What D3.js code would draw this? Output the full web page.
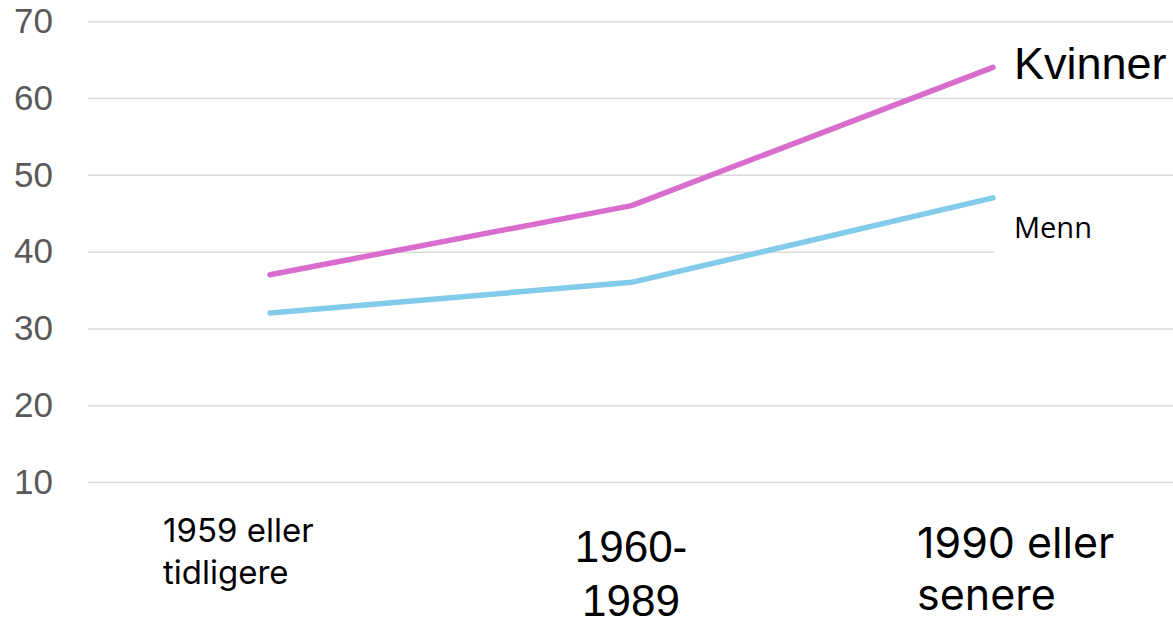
<!DOCTYPE html>
<html>
<head>
<meta charset="utf-8">
<script src="https://cdn.jsdelivr.net/npm/d3@7"></script>
<style>
  html, body { margin: 0; padding: 0; background: #fff; }
  svg { display: block; }
</style>
</head>
<body>
<svg id="chart" width="1173" height="625"></svg>
<script>
// Cohort categories and the share for each group
const categories = ["1959 eller tidligere", "1960-1989", "1990 eller senere"];
const kvinner = [37, 46, 64];
const menn = [32, 36, 47];
const yTicks = [10, 20, 30, 40, 50, 60, 70];
const seriesNames = ["Kvinner", "Menn"];

const svg = d3.select("#chart");

const x = d3.scalePoint().domain(categories).range([270, 993]);
const y = d3.scaleLinear().domain([10, 70]).range([482, 21.3]);

// Horizontal gridlines and value labels
const yAxis = d3.axisLeft(y).tickValues(yTicks).tickSize(-(1173 - 88)).tickPadding(35);
const gy = svg.append("g").attr("transform", "translate(88,0)").call(yAxis);
gy.select(".domain").remove();
gy.selectAll(".tick line").attr("stroke", "#d9d9d9").attr("stroke-width", 1.5);
gy.selectAll(".tick text")
  .attr("fill", "#595959")
  .attr("font-family", "'Liberation Sans', Arial, sans-serif")
  .attr("font-size", 35);

const line = d3.line().x((d, i) => x(categories[i])).y(d => y(d));

const series = [
  { name: seriesNames[0], values: kvinner, color: "#D86DCD" },
  { name: seriesNames[1], values: menn, color: "#83CBEB" }
];

svg.selectAll("path.series")
  .data(series)
  .join("path")
  .attr("class", "series")
  .attr("d", d => line(d.values))
  .attr("fill", "none")
  .attr("stroke", d => d.color)
  .attr("stroke-width", 5.5)
  .attr("stroke-linecap", "round")
  .attr("stroke-linejoin", "round");

// Series labels at the right end of each line
const lastX = x(categories[categories.length - 1]);
svg.append("rect")
  .attr("x", lastX + 1).attr("y", 202)
  .attr("width", 1173 - lastX).attr("height", 58)
  .attr("fill", "#fff");

svg.append("text")
  .attr("x", lastX + 21).attr("y", 79)
  .attr("font-family", "'Liberation Sans', Arial, sans-serif")
  .attr("font-size", 45)
  .attr("fill", "#000")
  .text(seriesNames[0]);

svg.append("text")
  .attr("x", lastX + 21).attr("y", 238)
  .attr("font-family", "'Open Sans', sans-serif")
  .attr("font-size", 29)
  .attr("fill", "#000")
  .text(seriesNames[1]);

// Category labels, each with its own wrapping and size
const catLabels = [
  { lines: ["1959 eller", "tidligere"], x: 163, anchor: "start", ys: [542, 584], size: 33, font: "Inter, 'Open Sans', sans-serif" },
  { lines: ["1960-", "1989"], x: 631, anchor: "middle", ys: [562, 616], size: 44, font: "'Liberation Sans', Arial, sans-serif" },
  { lines: ["1990 eller", "senere"], x: 917, anchor: "start", ys: [558, 610], size: 43, font: "Inter, 'Open Sans', sans-serif" }
];

catLabels.forEach(c => {
  const t = svg.append("text")
    .attr("text-anchor", c.anchor)
    .attr("font-family", c.font)
    .attr("font-size", c.size)
    .attr("fill", "#000");
  c.lines.forEach((ln, i) => {
    t.append("tspan").attr("x", c.x).attr("y", c.ys[i]).text(ln);
  });
});
</script>
</body>
</html>
